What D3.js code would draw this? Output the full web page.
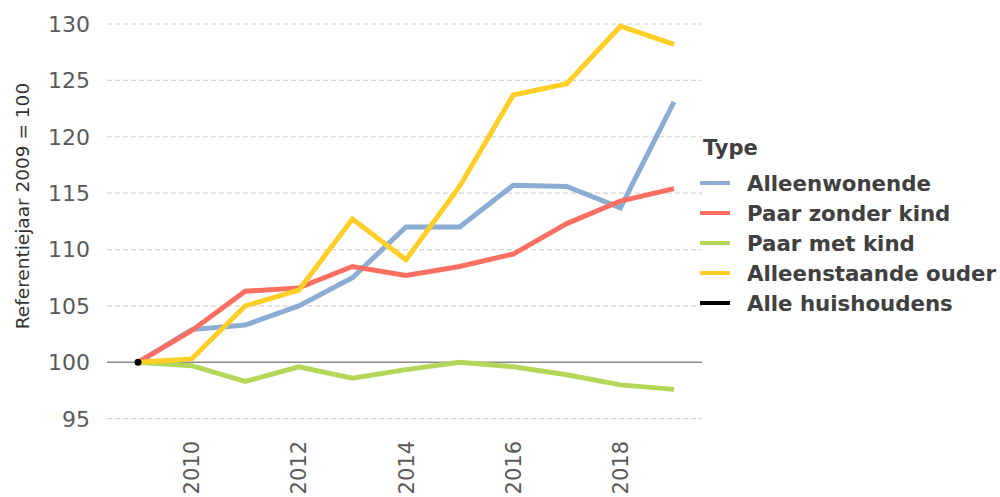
<html>
<head>
<meta charset="utf-8">
<title>Referentiejaar 2009 = 100</title>
<script src="https://d3js.org/d3.v7.min.js"></script>
<style>
  body { margin: 0; background: #fff; }
  svg { display: block; }
</style>
</head>
<body>
<script>
// data
var years = [2009, 2010, 2011, 2012, 2013, 2014, 2015, 2016, 2017, 2018, 2019];
var alleenwonende     = [100, 102.9, 103.3, 105.0, 107.5, 112.0, 112.0, 115.7, 115.6, 113.7, 123.1];
var paarZonderKind    = [100, 102.8, 106.3, 106.6, 108.5, 107.7, 108.5, 109.6, 112.3, 114.3, 115.4];
var paarMetKind       = [100, 99.7, 98.3, 99.6, 98.6, 99.35, 100.0, 99.6, 98.9, 98.0, 97.6];
var alleenstaandeOuder = [100, 100.3, 105.0, 106.4, 112.7, 109.1, 115.6, 123.7, 124.7, 129.8, 128.2];
var alleHuishoudens   = [100];
var seriesNames = ["Alleenwonende", "Paar zonder kind", "Paar met kind", "Alleenstaande ouder", "Alle huishoudens"];
var seriesValues = [alleenwonende, paarZonderKind, paarMetKind, alleenstaandeOuder, alleHuishoudens];
var seriesColors = ["#8cadd3", "#fd6f63", "#b5d759", "#ffcf28", "#000000"];
var yTicks = [95, 100, 105, 110, 115, 120, 125, 130];
var xTicks = [2010, 2012, 2014, 2016, 2018];

var width = 1000, height = 497;
var plot = {left: 107, right: 702};

var svg = d3.select("body").append("svg")
	.attr("width", width)
	.attr("height", height);

var x = d3.scaleLinear().domain([2009, 2019]).range([138, 674]);
var y = d3.scaleLinear().domain([95, 130]).range([418.7, 24]);

// grid
svg.append("g")
	.selectAll("line")
	.data(yTicks.filter(d => d != 100))
	.join("line")
		.attr("x1", plot.left)
		.attr("x2", plot.right)
		.attr("y1", d => y(d))
		.attr("y2", d => y(d))
		.attr("stroke", "#d4d4d4")
		.attr("stroke-width", 1.2)
		.attr("stroke-dasharray", "5,3");

svg.append("line")
	.attr("x1", plot.left)
	.attr("x2", plot.right)
	.attr("y1", y(100))
	.attr("y2", y(100))
	.attr("stroke", "#8a8a8a")
	.attr("stroke-width", 1.5);

// y axis labels
svg.append("g")
	.attr("font-family", "DejaVu Sans, sans-serif")
	.attr("font-size", 22)
	.attr("fill", "#5a5a5a")
	.selectAll("text")
	.data(yTicks)
	.join("text")
		.attr("x", 90)
		.attr("y", d => y(d))
		.attr("dy", "0.36em")
		.attr("text-anchor", "end")
		.text(d => d);

svg.append("text")
	.attr("transform", "translate(29," + 206 + ") rotate(-90)")
	.attr("text-anchor", "middle")
	.attr("font-family", "DejaVu Sans, sans-serif")
	.attr("font-size", 18.5)
	.attr("fill", "#333")
	.text("Referentiejaar 2009 = 100");

// x axis labels
svg.append("g")
	.attr("font-family", "DejaVu Sans, sans-serif")
	.attr("font-size", 21)
	.attr("fill", "#5a5a5a")
	.selectAll("text")
	.data(xTicks)
	.join("text")
		.attr("transform", d => "translate(" + x(d) + ",441) rotate(-90)")
		.attr("dy", "0.36em")
		.attr("text-anchor", "end")
		.text(d => d);

// lines
var line = d3.line()
	.x((d, i) => x(years[i]))
	.y(d => y(d));

var linesGroup = svg.append("g")
	.attr("fill", "none")
	.attr("stroke-width", 5)
	.attr("stroke-linejoin", "miter");

seriesValues.forEach(function(vals, k) {
	if (vals.length > 1) {
		linesGroup.append("path")
			.attr("d", line(vals))
			.attr("stroke", seriesColors[k]);
	} else {
		svg.append("circle")
			.attr("cx", x(years[0]))
			.attr("cy", y(vals[0]))
			.attr("r", 3.5)
			.attr("fill", seriesColors[k]);
	}
});

// legend
var legend = svg.append("g")
	.attr("font-family", "DejaVu Sans, sans-serif")
	.attr("font-weight", "bold")
	.attr("fill", "#404040");

legend.append("text")
	.attr("x", 703)
	.attr("y", 155)
	.attr("font-size", 21)
	.text("Type");

var items = legend.selectAll("g.item")
	.data(seriesNames)
	.join("g")
		.attr("class", "item")
		.attr("transform", (d, i) => "translate(0," + (183 + i * 30) + ")");

items.append("line")
	.attr("x1", 700)
	.attr("x2", 730)
	.attr("stroke", (d, i) => seriesColors[i])
	.attr("stroke-width", 4);

items.append("text")
	.attr("x", 747)
	.attr("y", 7.5)
	.attr("font-size", 21.3)
	.text(d => d);
</script>
</body>
</html>
